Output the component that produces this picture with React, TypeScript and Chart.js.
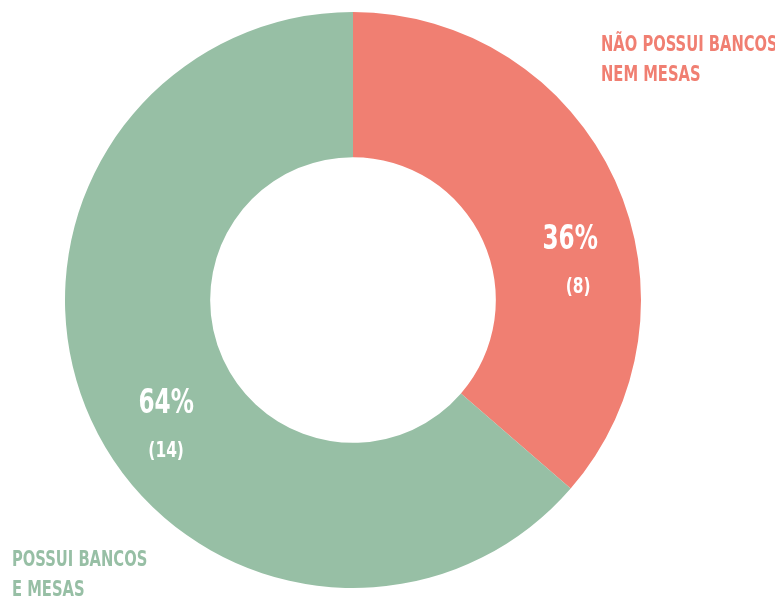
import React, { useEffect, useRef } from "react";
import { Chart, registerables } from "chart.js";

Chart.register(...registerables);

const categories = ["NÃO POSSUI BANCOS NEM MESAS", "POSSUI BANCOS E MESAS"];
const counts = [8, 14];
const percentLabels = ["36%", "64%"];
const countLabels = ["(8)", "(14)"];
const outerLabelLines = [
  ["NÃO POSSUI BANCOS", "NEM MESAS"],
  ["POSSUI BANCOS", "E MESAS"],
];
const colors = ["#F07F72", "#97BFA5"];

const FONT = "'DejaVu Sans Condensed', 'DejaVu Sans', sans-serif";
const SQUEEZE = 0.78;

// where inside each slice the value label sits (fraction of the slice's sweep, fraction of outer radius)
const labelSweepFrac = [0.61, 0.46];
const labelRadiusFrac = 0.78;
const pctDx = [-4, 0];
const cntDx = [4, 0];

function drawSqueezed(ctx: CanvasRenderingContext2D, text: string, x: number, y: number, align: "left" | "center") {
  ctx.save();
  ctx.translate(x, y);
  ctx.scale(SQUEEZE, 1);
  ctx.textAlign = align;
  ctx.fillText(text, 0, 0);
  ctx.restore();
}

const labelPlugin = {
  id: "donutLabels",
  afterDatasetsDraw(chart: any) {
    const ctx: CanvasRenderingContext2D = chart.ctx;
    const meta = chart.getDatasetMeta(0);
    ctx.save();
    ctx.textBaseline = "middle";
    ctx.fillStyle = "#ffffff";
    meta.data.forEach((arc: any, i: number) => {
      const { x, y, startAngle, endAngle, outerRadius } = arc.getProps(
        ["x", "y", "startAngle", "endAngle", "outerRadius"],
        true
      );
      const a = startAngle + (endAngle - startAngle) * labelSweepFrac[i];
      const r = outerRadius * labelRadiusFrac;
      const cx = x + Math.cos(a) * r;
      const cy = y + Math.sin(a) * r;
      ctx.font = `bold 33px ${FONT}`;
      drawSqueezed(ctx, percentLabels[i], cx + pctDx[i], cy - 20, "center");
      ctx.font = `bold 22px ${FONT}`;
      drawSqueezed(ctx, countLabels[i], cx + cntDx[i], cy + 27, "center");
    });

    // outer category labels
    ctx.font = `bold 21px ${FONT}`;
    ctx.fillStyle = colors[0];
    drawSqueezed(ctx, outerLabelLines[0][0], 601, 46, "left");
    drawSqueezed(ctx, outerLabelLines[0][1], 601, 76, "left");
    ctx.fillStyle = colors[1];
    drawSqueezed(ctx, outerLabelLines[1][0], 12, 561, "left");
    drawSqueezed(ctx, outerLabelLines[1][1], 12, 591, "left");
    ctx.restore();
  },
};

export default function App() {
  const ref = useRef<HTMLCanvasElement | null>(null);
  useEffect(() => {
    document.body.style.margin = "0";
    const chart = new Chart(ref.current as HTMLCanvasElement, {
      type: "doughnut",
      data: {
        labels: categories,
        datasets: [
          {
            data: counts,
            backgroundColor: colors,
            borderWidth: 0,
          },
        ],
      },
      options: {
        animation: false,
        responsive: false,
        cutout: "49.6%",
        layout: { padding: { left: 65, right: 134, top: 12, bottom: 12 } },
        plugins: {
          legend: { display: false },
          tooltip: { enabled: false },
        },
      },
      plugins: [labelPlugin],
    });
    return () => chart.destroy();
  }, []);
  return (
    <div style={{ width: 775, height: 600, background: "#fff" }}>
      <canvas ref={ref} width={775} height={600} style={{ display: "block" }} />
    </div>
  );
}
